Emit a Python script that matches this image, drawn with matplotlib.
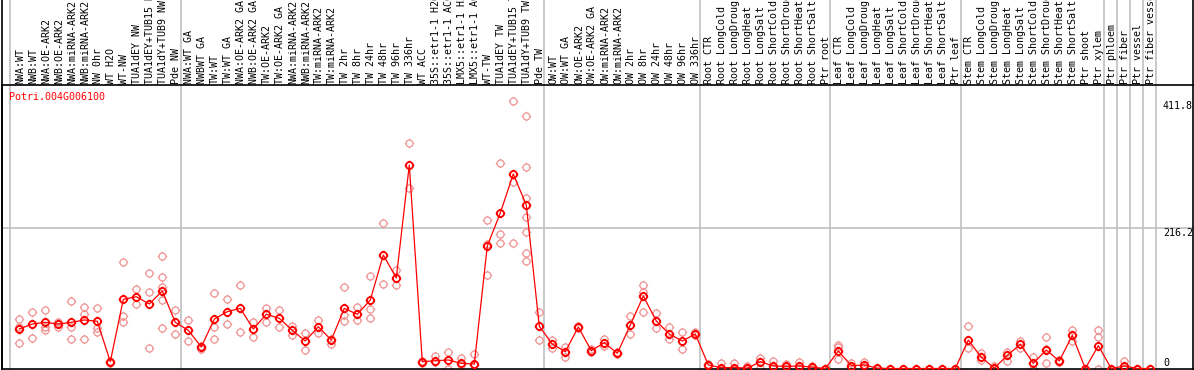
import matplotlib
matplotlib.use("Agg")
import matplotlib.pyplot as plt
import matplotlib.transforms as mtransforms
from matplotlib.path import Path
from matplotlib.lines import Line2D
import numpy as np

# Data
gene = "Potri.004G006100"

labels = [
    "NWA:WT", "NWB:WT", "NWA:OE-ARK2", "NWB:OE-ARK2", "NWA:miRNA-ARK2", "NWB:miRNA-ARK2",
    "NW 0hr", "WT H2O", "WT-NW", "TUA1dEY NW", "TUA1dEY+TUB15 NW", "TUA1dY+TUB9 NW", "Pde NW",
    "NWA:WT GA", "NWBWT GA", "TW:WT", "TW:WT GA", "NWA:OE-ARK2 GA", "NWB:OE-ARK2 GA",
    "TW:OE-ARK2", "TW:OE-ARK2 GA", "NWA:miRNA-ARK2", "NWB:miRNA-ARK2", "TW:miRNA-ARK2",
    "TW:miRNA-ARK2", "TW 2hr", "TW 8hr", "TW 24hr", "TW 48hr", "TW 96hr", "TW 336hr", "WT ACC",
    "35S::etr1-1 H2O", "35S::etr1-1 ACC", "LMX5::etr1-1 H2O", "LMX5::etr1-1 ACC", "WT-TW",
    "TUA1dEY TW", "TUA1dEY+TUB15 TW", "TUA1dY+TUB9 TW", "Pde TW",
    "OW:WT", "OW:WT GA", "OW:OE-ARK2", "OW:OE-ARK2 GA", "OW:miRNA-ARK2", "OW:miRNA-ARK2",
    "OW 2hr", "OW 8hr", "OW 24hr", "OW 48hr", "OW 96hr", "OW 336hr",
    "Root CTR", "Root LongCold", "Root LongDrought", "Root LongHeat", "Root LongSalt",
    "Root ShortCold", "Root ShortDrought", "Root ShortHeat", "Root ShortSalt", "Ptr root",
    "Leaf CTR", "Leaf LongCold", "Leaf LongDrought", "Leaf LongHeat", "Leaf LongSalt",
    "Leaf ShortCold", "Leaf ShortDrought", "Leaf ShortHeat", "Leaf ShortSalt", "Ptr leaf",
    "Stem CTR", "Stem LongCold", "Stem LongDrought", "Stem LongHeat", "Stem LongSalt",
    "Stem ShortCold", "Stem ShortDrought", "Stem ShortHeat", "Stem ShortSalt", "Ptr shoot",
    "Ptr xylem", "Ptr phloem", "Ptr fiber", "Ptr vessel", "Ptr fiber vessel",
]

group_sizes = [13, 28, 12, 10, 10, 11, 1, 1, 1, 1]

means = [
    60.9, 68.6, 71.2, 68.6, 71.2, 74.8, 72.8, 10.5, 106.7, 110.7, 99.5, 119.5, 71.2,
    58.9, 33.2, 76.3, 87.6, 92.8, 60.9, 83.6, 77.4, 58.9, 42.4, 64.5, 43.9, 92.8, 83.6,
    105.6, 175.0, 139.6, 313.8, 10.5, 12.0, 13.1, 8.0, 6.9, 188.9, 239.8, 299.9, 252.1, 65.0,
    37.8, 25.9, 64.0, 27.5, 39.8, 23.4, 67.1, 111.8, 73.2, 53.2, 42.4, 53.2,
    5.4, 1.2, 1.5, 0.5, 10.5, 3.9, 3.3, 3.9, 2.0, 0.0,
    27.0, 4.4, 5.4, 0.5, 0.0, 0.0, 0.0, 0.0, 0.0, 0.0,
    43.9, 17.3, 0.5, 20.3, 37.3, 8.0, 28.5, 11.6, 51.2, 0.0, 35.2,
    0.0, 3.9, 0.0, 0.0,
]

replicates = [
    [76.3, 64.5, 38.8], [86.6, 68, 46.5], [90.2, 59.4, 64.5], [72, 64.5], [104, 64.5, 45],
    [94.3, 83.6, 45], [92.8, 62, 55.8], [12, 9], [163.8, 81, 72.2], [122, 99],
    [146.8, 117.5, 31.1], [173, 140.6, 126, 105.6, 62], [89.7, 52.7],
    [74.8, 42.4], [35, 30], [116, 63.5, 45.5], [107.2, 68.1], [128.8, 55.8], [72.2, 49],
    [92.8, 72.2], [90.2, 64.5], [65.8, 51.4], [54.3, 28.5], [74.8, 54.3], [46, 38],
    [125.2, 82.5, 73.2], [95.3, 74.8], [142.6, 92.2, 77.4], [223.9, 130.3], [151.9, 128.3],
    [347.7, 277.9], [11, 9], [19.3, 10], [25.9, 0], [15.7, 6], [22.4, 5],
    [229, 192, 143.7], [316.9, 207.4, 193], [411.8, 288, 193],
    [389.4, 310.3, 262.4, 234, 210, 178, 165.3], [87.1, 43.9],
    [44, 32], [33.6, 17.3], [66, 62], [30, 25], [45.5, 34.7], [25, 22], [81, 52.7],
    [128.8, 117.5, 86.6], [85.1, 63], [63.5, 45], [55.8, 29.6], [56, 51],
    [7, 4], [8, 0], [8, 0], [4, 0], [15.7, 0.5], [12, 1], [7, 1], [9.3, 1], [4, 0], [0, 0],
    [36.2, 33, 14.1], [8, 2], [10.5, 2], [0], [0], [0], [0], [0], [0], [0],
    [66, 31.1], [23.4, 13], [4, 0], [26, 12], [41.7, 32], [17.8, 0], [48.1, 30, 8],
    [13, 10], [59.4, 42.4], [0], [59.4, 49, 0],
    [0], [12, 0], [0], [0],
]

yticks = [0, 216.2, 411.8]
ytick_labels = ["0", "216.2", "411.8"]

# Figure layout (pixel based)
W, H = 1194, 370
fig = plt.figure(figsize=(W / 100, H / 100), dpi=100)
ax_left, ax_right, ax_top, ax_bottom = 1.5, 1194, 85, 369
ax = fig.add_axes([ax_left / W, (H - ax_bottom) / H,
                   (ax_right - ax_left) / W, (ax_bottom - ax_top) / H])

# x: centre of first category at px 19.3, step 13 px; y: 0 at px 368.5, 0.6485 px/unit
x0, step = 19.3, 13.0
ax.set_xlim((ax_left - x0) / step, (ax_right - x0) / step)
scale = 0.6485
ax.set_ylim(-(ax_bottom - 368.5) / scale, (368.5 - ax_top) / scale)
ax.set_xticks([])
ax.set_yticks([])
for s in ["right"]:
    ax.spines[s].set_visible(False)
for s in ["left", "top", "bottom"]:
    ax.spines[s].set_linewidth(1.2)
    ax.spines[s].set_color("black")

mono = "DejaVu Sans Mono"
fs = 7.2
grid_c = "#c0c0c0"

# circle with four small ticks, like the original marker
circ = Path.unit_circle()
tick_verts = [(0, 1), (0, 1.35), (0, -1), (0, -1.35), (1, 0), (1.35, 0), (-1, 0), (-1.35, 0)]
tick_codes = [Path.MOVETO, Path.LINETO] * 4
ticks = Path(tick_verts, tick_codes)
marker_path = Path.make_compound_path(circ, ticks)

# group separators, running up through the label area
ends = np.cumsum(group_sizes) - 1
sep_x = [-0.7] + [e + 0.4 for e in ends]
top_frac = (H - (H - ax_bottom)) / (ax_bottom - ax_top)
for sx in sep_x:
    ax.axvline(sx, ymin=0, ymax=top_frac + 0.05, color=grid_c, lw=1.2, clip_on=False, zorder=1)
ax.axhline(yticks[1], color=grid_c, lw=1.2, zorder=1)

xs = np.arange(len(labels))

# replicates
rx = [i for i, r in enumerate(replicates) for _ in r]
ry = [v for r in replicates for v in r]
ax.plot(rx, ry, linestyle="none", marker=marker_path, markersize=6.8,
        markerfacecolor="none", markeredgecolor="#f09494", markeredgewidth=0.9,
        clip_on=False, zorder=2)

# mean line
ax.plot(xs, means, color="#ff0000", lw=0.9, marker=marker_path, markersize=6.8,
        markerfacecolor="none", markeredgecolor="#ff0000", markeredgewidth=1.3,
        clip_on=False, zorder=3)

# category labels above the plot
trans = mtransforms.blended_transform_factory(ax.transData, fig.transFigure)
for i, lab in enumerate(labels):
    ax.text(i + 0.05, 1 - 83.5 / H, lab, rotation=90, ha="center", va="bottom",
            family=mono, fontsize=fs, transform=trans, clip_on=False)

# gene name
fig.text(9.3 / W, 1 - 97 / H, gene, color="#ff0000", family=mono, fontsize=fs,
         ha="left", va="center")

# right-hand value labels
ytrans = mtransforms.blended_transform_factory(fig.transFigure, ax.transData)
for v, t in zip(yticks, ytick_labels):
    ax.text(1163 / W, v, t, family=mono, fontsize=fs, ha="left",
            va="bottom" if v == 0 else "top", transform=ytrans, clip_on=False)

# left border and right border through the whole figure
fig.add_artist(Line2D([ax_left / W, ax_left / W], [0, 1], color="black", lw=1.2))
fig.add_artist(Line2D([1193 / W, 1193 / W], [0, 1], color="black", lw=1.2))

fig.savefig("out.png", dpi=100)
